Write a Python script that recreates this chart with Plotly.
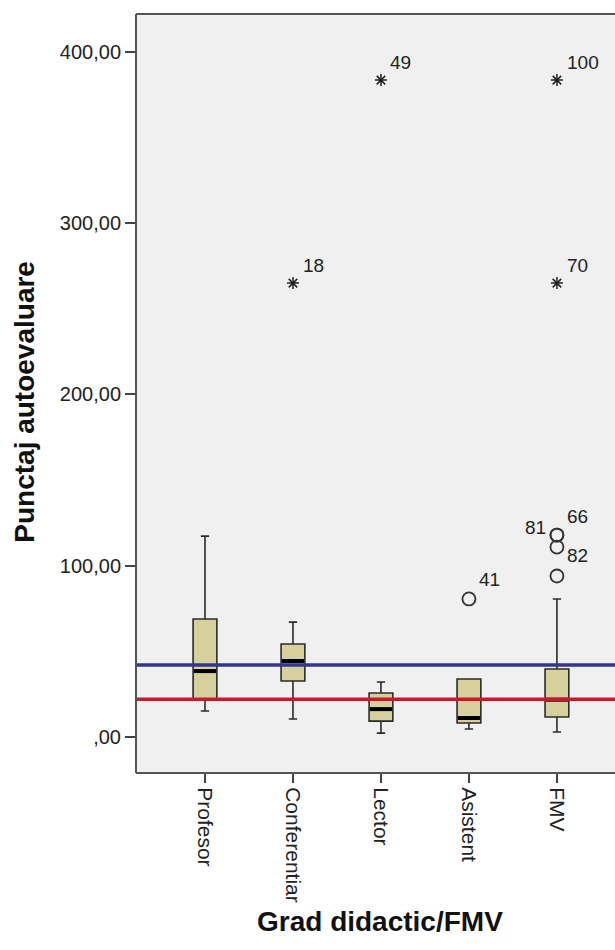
import plotly.graph_objects as go

categories = ["Profesor", "Conferentiar", "Lector", "Asistent", "FMV"]
q1 = [22.0, 32.7, 9.3, 8.2, 11.7]
median = [38.5, 44.4, 16.3, 11.1, 21.8]
q3 = [68.9, 54.3, 25.7, 33.9, 39.7]
lower_whisker = [15.2, 10.5, 2.3, 4.7, 2.9]
upper_whisker = [117.3, 67.1, 32.1, 33.9, 80.6]

# outliers (circles): category index, value, case label
out_cat = [3, 4, 4, 4, 4]
out_val = [80.6, 94.0, 110.9, 117.9, 117.9]
out_lab = ["41", "", "82", "66", "81"]

# extremes (stars)
ext_cat = [1, 2, 4, 4]
ext_val = [265.0, 383.5, 265.0, 383.5]
ext_lab = ["18", "49", "70", "100"]

ref_blue = 42.0
ref_red = 22.0

y_tickvals = [0, 100, 200, 300, 400]
y_ticktext = [",00", "100,00", "200,00", "300,00", "400,00"]

BOX_W = 0.27
fig = go.Figure()

for i, c in enumerate(categories):
    fig.add_trace(go.Box(
        x=[i], q1=[q1[i]], median=[median[i]], q3=[q3[i]],
        lowerfence=[lower_whisker[i]], upperfence=[upper_whisker[i]],
        width=BOX_W, whiskerwidth=0.35,
        fillcolor="#d6d19c", line=dict(color="#2b2b2b", width=1.6),
        boxpoints=False, showlegend=False, hoverinfo="skip"))
    # thick median bar
    fig.add_trace(go.Scatter(
        x=[i - BOX_W / 2 + 0.01, i + BOX_W / 2 - 0.01], y=[median[i], median[i]],
        mode="lines", line=dict(color="#000000", width=4),
        showlegend=False, hoverinfo="skip"))

fig.add_trace(go.Scatter(
    x=out_cat, y=out_val, mode="markers",
    marker=dict(symbol="circle-open", size=13, color="#333333", line=dict(width=1.8)),
    showlegend=False, hoverinfo="skip"))

fig.add_trace(go.Scatter(
    x=ext_cat, y=ext_val, mode="markers",
    marker=dict(symbol="asterisk-open", size=10, color="#222222", line=dict(width=1.5, color="#222222")),
    showlegend=False, hoverinfo="skip"))

# reference lines
for val, col in [(ref_blue, "#35358f"), (ref_red, "#b3242c")]:
    fig.add_shape(type="line", xref="paper", yref="y", x0=0, x1=1, y0=val, y1=val,
                  line=dict(color=col, width=3.5), layer="above")

# labels
lab_font = dict(family="Liberation Sans, Arial", size=19, color="#222222")
shifts = {"41": (8, 19, "left"), "82": (8, -8, "left"), "66": (8, 19, "left"),
          "81": (-9, 8, "right"), "18": (8, 18, "left"), "49": (7, 18, "left"),
          "70": (8, 18, "left"), "100": (8, 18, "left")}
for cx, v, lab in list(zip(out_cat, out_val, out_lab)) + list(zip(ext_cat, ext_val, ext_lab)):
    if not lab:
        continue
    dx, dy, anc = shifts[lab]
    fig.add_annotation(x=cx, y=v, text=lab, showarrow=False, xanchor=anc, yanchor="middle",
                       xshift=dx, yshift=dy, font=lab_font)

# axis titles
fig.add_annotation(xref="paper", yref="paper", x=-0.232, y=0.489, text="<b>Punctaj autoevaluare</b>",
                   textangle=-90, showarrow=False, xanchor="center", yanchor="middle",
                   font=dict(family="Liberation Sans, Arial", size=28, color="#111111"))
fig.add_annotation(xref="paper", yref="paper", x=0.509, y=-0.195, text="<b>Grad didactic/FMV</b>",
                   showarrow=False, xanchor="center", yanchor="middle",
                   font=dict(family="Liberation Sans, Arial", size=28, color="#111111"))

# plot frame (left, top, bottom)
frame = dict(color="#555555", width=2)
fig.add_shape(type="line", xref="paper", yref="paper", x0=0, x1=0, y0=0, y1=1, line=frame)
fig.add_shape(type="line", xref="paper", yref="paper", x0=0, x1=1, y0=1, y1=1, line=frame)
fig.add_shape(type="line", xref="paper", yref="paper", x0=0, x1=1, y0=0, y1=0, line=frame)

fig.update_layout(
    width=615, height=950,
    margin=dict(l=136, r=0, t=14, b=177),
    paper_bgcolor="white", plot_bgcolor="#f0f0f0",
    font=dict(family="Liberation Sans, Arial", size=14, color="#333333"),
    xaxis=dict(range=[-0.784, 4.66], tickmode="array", tickvals=list(range(len(categories))),
               ticktext=categories, tickangle=90, ticks="outside", ticklen=9, tickwidth=1.6,
               tickcolor="#444444", showgrid=False, zeroline=False, showline=False,
               tickfont=dict(size=21, color="#222222")),
    yaxis=dict(range=[-21.0, 422.1], tickmode="array", tickvals=y_tickvals, ticktext=y_ticktext,
               ticks="outside", ticklen=10, tickwidth=1.6, tickcolor="#444444",
               showgrid=False, zeroline=False, showline=False,
               tickfont=dict(size=20, color="#222222")),
)

fig.write_html("out.html", config={"displayModeBar": False},
               post_script="document.body.style.margin='0';document.body.style.overflow='hidden';")
